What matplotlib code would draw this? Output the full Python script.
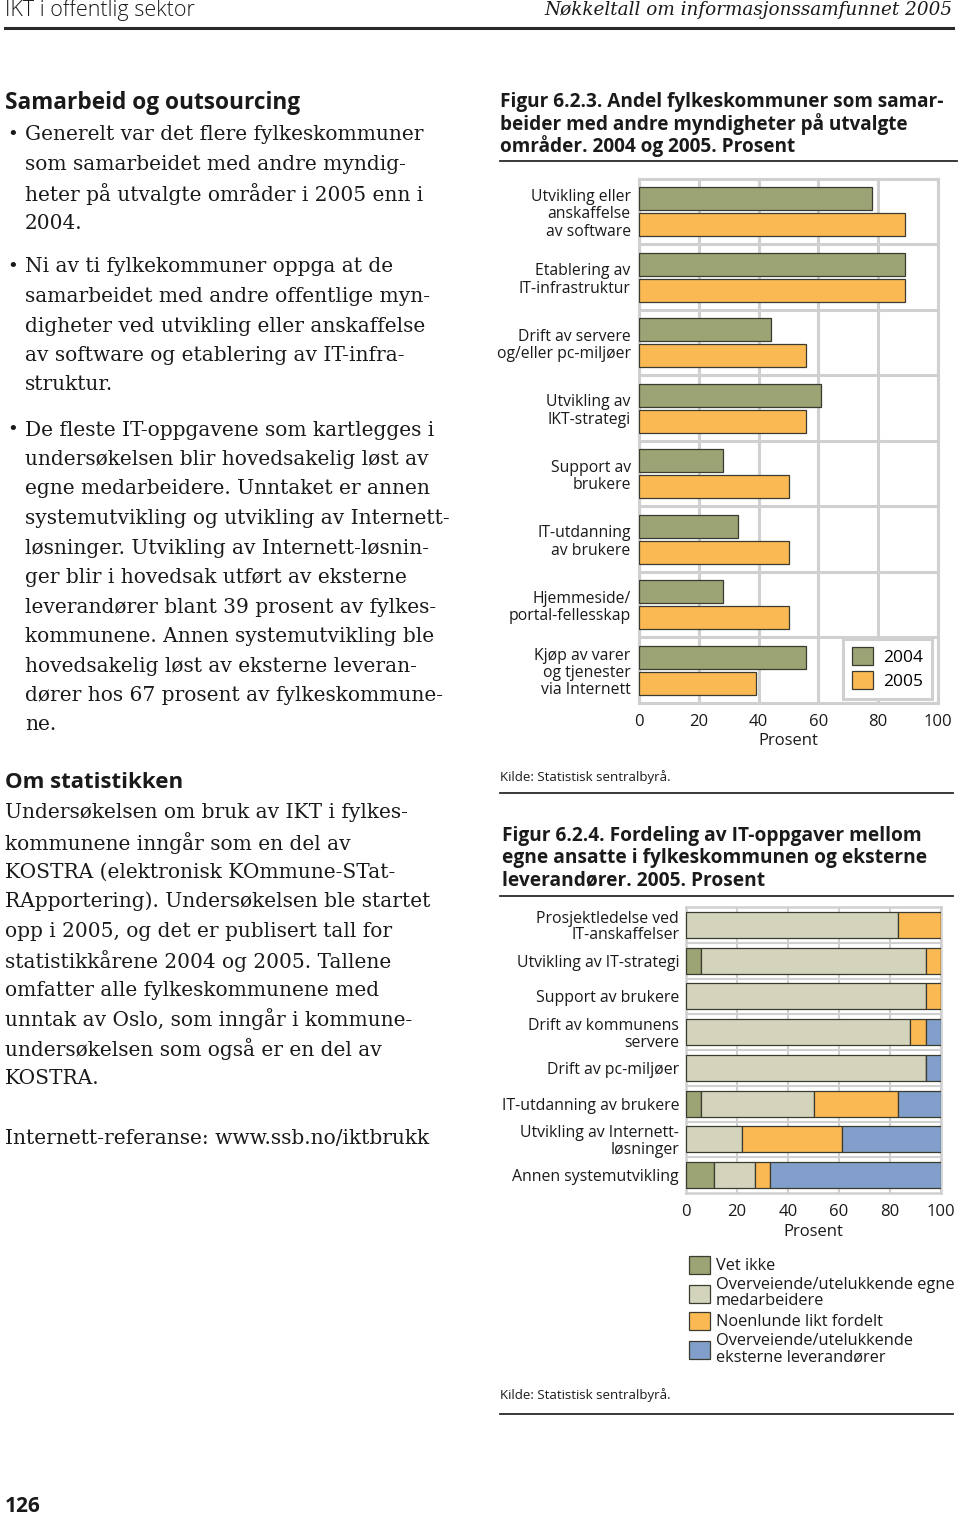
import numpy as np
import matplotlib
matplotlib.use("Agg")
import matplotlib.pyplot as plt
from matplotlib.patches import Patch
from matplotlib.lines import Line2D

# figur 6.2.3 - samarbeid med andre myndigheter
omrader = ["Utvikling eller\nanskaffelse\nav software",
           "Etablering av\nIT-infrastruktur",
           "Drift av servere\nog/eller pc-miljøer",
           "Utvikling av\nIKT-strategi",
           "Support av\nbrukere",
           "IT-utdanning\nav brukere",
           "Hjemmeside/\nportal-fellesskap",
           "Kjøp av varer\nog tjenester\nvia Internett"]
andel_2004 = [78, 89, 44, 61, 28, 33, 28, 56]
andel_2005 = [89, 89, 56, 56, 50, 50, 50, 39]

# figur 6.2.4 - fordeling av IT-oppgaver, 2005
oppgaver = ["Prosjektledelse ved\nIT-anskaffelser",
            "Utvikling av IT-strategi",
            "Support av brukere",
            "Drift av kommunens\nservere",
            "Drift av pc-miljøer",
            "IT-utdanning av brukere",
            "Utvikling av Internett-\nløsninger",
            "Annen systemutvikling"]
vet_ikke = [0, 6, 0, 0, 0, 6, 0, 11]
egne = [83, 88, 94, 88, 94, 44, 22, 16]
likt = [17, 6, 6, 6, 0, 33, 39, 6]
eksterne = [0, 0, 0, 6, 6, 17, 39, 67]
kategorier = ["Vet ikke",
              "Overveiende/utelukkende egne\nmedarbeidere",
              "Noenlunde likt fordelt",
              "Overveiende/utelukkende\neksterne leverandører"]

W, H = 960, 1518
GRONN = "#9ca374"
ORANSJE = "#fbb954"
LYS = "#d3d4bb"
BLA = "#819fca"
GRID = "#d0d0d0"
KANT = "#3b3b30"
SANS = "Open Sans"
SERIF = "DejaVu Serif"
TXT = "#1a1a1a"

fig = plt.figure(figsize=(W / 100, H / 100), dpi=100)


def put(x, y, s, **kw):
    kw.setdefault("color", TXT)
    kw.setdefault("va", "center")
    fig.text(x / W, 1 - y / H, s, **kw)


def hline(x0, x1, y, lw):
    fig.add_artist(Line2D([x0 / W, x1 / W], [1 - y / H, 1 - y / H], color="#2a2a2a", lw=lw))


def rect(x0, y0, x1, y1):
    return [x0 / W, 1 - y1 / H, (x1 - x0) / W, (y1 - y0) / H]


# sidehode
put(5, 10, "IKT i offentlig sektor", family=SANS, fontsize=15.5, weight="light")
put(953, 10, "Nøkkeltall om informasjonssamfunnet 2005", family=SERIF, style="italic",
    fontsize=13.2, ha="right")
hline(5, 953, 28, 2.2)

# venstre spalte
put(5, 103, "Samarbeid og outsourcing", family=SANS, fontsize=16.3, weight="bold")

bullets = [
    (135, ["Generelt var det flere fylkeskommuner",
           "som samarbeidet med andre myndig-",
           "heter på utvalgte områder i 2005 enn i",
           "2004."]),
    (267, ["Ni av ti fylkekommuner oppga at de",
           "samarbeidet med andre offentlige myn-",
           "digheter ved utvikling eller anskaffelse",
           "av software og etablering av IT-infra-",
           "struktur."]),
    (430, ["De fleste IT-oppgavene som kartlegges i",
           "undersøkelsen blir hovedsakelig løst av",
           "egne medarbeidere. Unntaket er annen",
           "systemutvikling og utvikling av Internett-",
           "løsninger. Utvikling av Internett-løsnin-",
           "ger blir i hovedsak utført av eksterne",
           "leverandører blant 39 prosent av fylkes-",
           "kommunene. Annen systemutvikling ble",
           "hovedsakelig løst av eksterne leveran-",
           "dører hos 67 prosent av fylkeskommune-",
           "ne."]),
]
for y0, lines in bullets:
    put(7, y0, "•", family=SERIF, fontsize=13)
    for i, s in enumerate(lines):
        put(25, y0 + i * 29.5, s, family=SERIF, fontsize=14.5)

put(5, 782, "Om statistikken", family=SANS, fontsize=16, weight="bold")
om = ["Undersøkelsen om bruk av IKT i fylkes-",
      "kommunene inngår som en del av",
      "KOSTRA (elektronisk KOmmune-STat-",
      "RApportering). Undersøkelsen ble startet",
      "opp i 2005, og det er publisert tall for",
      "statistikkårene 2004 og 2005. Tallene",
      "omfatter alle fylkeskommunene med",
      "unntak av Oslo, som inngår i kommune-",
      "undersøkelsen som også er en del av",
      "KOSTRA."]
for i, s in enumerate(om):
    put(5, 813 + i * 29.5, s, family=SERIF, fontsize=14.5)
put(5, 1138, "Internett-referanse: www.ssb.no/iktbrukk", family=SERIF, fontsize=14.5)

put(5, 1506, "126", family=SANS, fontsize=15, weight="bold")

# figur 6.2.3
tittel1 = ["Figur 6.2.3. Andel fylkeskommuner som samar-",
           "beider med andre myndigheter på utvalgte",
           "områder. 2004 og 2005. Prosent"]
for i, s in enumerate(tittel1):
    put(500, 102 + i * 22, s, family=SANS, fontsize=13.7, weight="bold")
hline(500, 957, 161, 1.3)

ax1 = fig.add_axes(rect(639, 179, 938, 703))
pos = np.arange(len(omrader))
ax1.barh(pos + 0.3, andel_2004, height=0.35, color=GRONN, edgecolor=KANT, lw=0.9,
         label="2004", zorder=3)
ax1.barh(pos + 0.7, andel_2005, height=0.35, color=ORANSJE, edgecolor=KANT, lw=0.9,
         label="2005", zorder=3)
ax1.set_xlim(0, 100)
ax1.set_ylim(len(omrader), 0)
ax1.set_xticks(range(0, 101, 20))
ax1.set_yticks(pos + 0.5, omrader, linespacing=1.12)
ax1.set_yticks(pos[1:], minor=True)
ax1.tick_params(length=0, which="both")
ax1.tick_params(axis="y", pad=6, labelsize=11.3)
ax1.tick_params(axis="x", pad=8, labelsize=12)
for t in ax1.get_yticklabels() + ax1.get_xticklabels():
    t.set_family(SANS)
    t.set_color(TXT)
ax1.grid(True, axis="x", color=GRID, lw=2.2, zorder=0)
ax1.grid(True, axis="y", which="minor", color=GRID, lw=2.2, zorder=0)
for sp in ax1.spines.values():
    sp.set_color(GRID)
    sp.set_linewidth(2.2)
ax1.set_xlabel("Prosent", family=SANS, fontsize=12, color=TXT, labelpad=2)
leg1 = ax1.legend(loc="lower right", bbox_to_anchor=(0.98, 0.008), borderaxespad=0,
                  fancybox=False, edgecolor=GRID, framealpha=1,
                  prop={"family": SANS, "size": 12.5},
                  handlelength=1.2, handleheight=1.2, handletextpad=0.6,
                  labelspacing=0.3, borderpad=0.5)
leg1.get_frame().set_linewidth(2.2)

put(500, 777, "Kilde: Statistisk sentralbyrå.", family=SANS, fontsize=9.5)
hline(500, 953, 793, 1.3)

# figur 6.2.4
tittel2 = ["Figur 6.2.4. Fordeling av IT-oppgaver mellom",
           "egne ansatte i fylkeskommunen og eksterne",
           "leverandører. 2005. Prosent"]
for i, s in enumerate(tittel2):
    put(502, 836 + i * 22, s, family=SANS, fontsize=13.8, weight="bold")
hline(500, 953, 896, 1.3)

ax2 = fig.add_axes(rect(686, 907, 941, 1193))
rows = np.arange(len(oppgaver)) + 0.5
left = np.zeros(len(oppgaver))
for vals, farge, navn in zip([vet_ikke, egne, likt, eksterne],
                             [GRONN, LYS, ORANSJE, BLA], kategorier):
    vals = np.array(vals, dtype=float)
    ax2.barh(rows, vals, left=left, height=0.73, color=farge, edgecolor=KANT, lw=0.9,
             label=navn, zorder=3)
    left += vals
ax2.set_xlim(0, 100)
ax2.set_ylim(len(oppgaver), 0)
ax2.set_xticks(range(0, 101, 20))
ax2.set_yticks(rows, oppgaver, linespacing=1.05)
ax2.set_yticks(np.arange(1, len(oppgaver)), minor=True)
ax2.tick_params(length=0, which="both")
ax2.tick_params(axis="y", pad=5, labelsize=11.4)
ax2.tick_params(axis="x", pad=8, labelsize=12)
for t in ax2.get_yticklabels() + ax2.get_xticklabels():
    t.set_family(SANS)
    t.set_color(TXT)
ax2.grid(True, axis="x", color=GRID, lw=1.5, zorder=0)
ax2.grid(True, axis="y", which="minor", color=GRID, lw=1.5, zorder=0)
for sp in ax2.spines.values():
    sp.set_color(GRID)
    sp.set_linewidth(1.8)
ax2.set_xlabel("Prosent", family=SANS, fontsize=12, color=TXT, labelpad=3)

handles = [Patch(facecolor=c, edgecolor=KANT, lw=0.9) for c in [GRONN, LYS, ORANSJE, BLA]]
leg2 = fig.legend(handles, kategorier, loc="upper left",
                  bbox_to_anchor=(674 / W, 1 - 1241 / H), frameon=False,
                  prop={"family": SANS, "size": 11.8}, handlelength=1.3,
                  handleheight=1.3, handletextpad=0.35, labelspacing=0.18)
for t in leg2.get_texts():
    t.set_linespacing(1.0)
    t.set_color(TXT)

put(500, 1395, "Kilde: Statistisk sentralbyrå.", family=SANS, fontsize=9.5)
hline(500, 953, 1414, 1.3)

fig.savefig("out.png", dpi=100, facecolor="white")
